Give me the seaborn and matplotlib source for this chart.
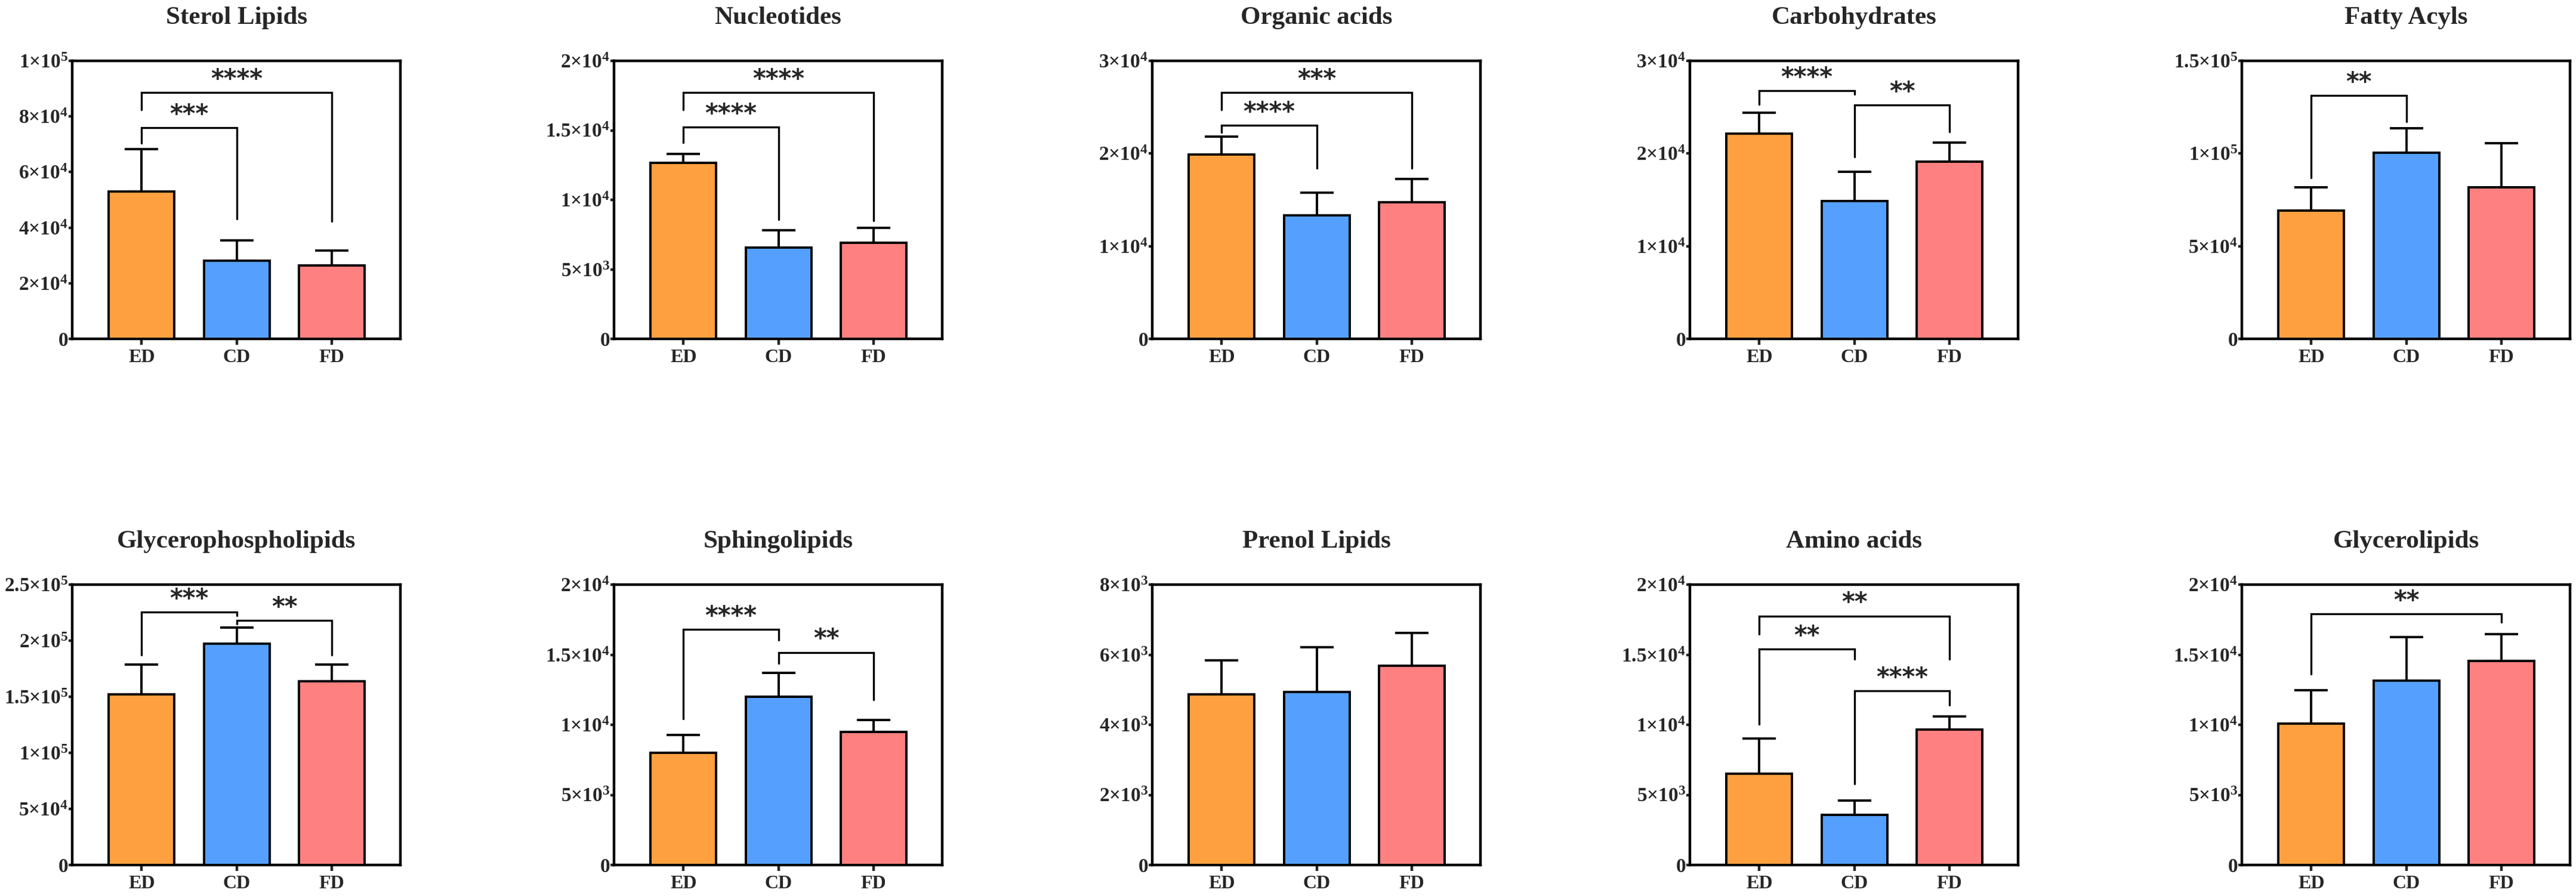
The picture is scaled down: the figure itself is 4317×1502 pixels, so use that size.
import numpy as np
import matplotlib
matplotlib.use("Agg")
import matplotlib.pyplot as plt
import seaborn as sns
from matplotlib.ticker import FixedLocator, FuncFormatter

sns.set_style("white")
plt.rcParams['font.family'] = ['Liberation Serif', 'DejaVu Serif']
plt.rcParams['font.weight'] = 'bold'
plt.rcParams['mathtext.fontset'] = 'custom'
plt.rcParams['mathtext.rm'] = 'Liberation Serif:bold'
plt.rcParams['mathtext.bf'] = 'Liberation Serif:bold'
plt.rcParams['mathtext.it'] = 'Liberation Serif:bold'

# DATA
groups = ["ED", "CD", "FD"]
colors = ["#FFA040", "#55A0FF", "#FF8080"]

titles = ["Sterol Lipids", "Nucleotides", "Organic acids", "Carbohydrates", "Fatty Acyls",
          "Glycerophospholipids", "Sphingolipids", "Prenol Lipids", "Amino acids", "Glycerolipids"]

sterol_mean = [52900, 28200, 26500]
sterol_sd = [15400, 7200, 5300]
nucleo_mean = [12660, 6560, 6900]
nucleo_sd = [640, 1270, 1100]
organic_mean = [19880, 13320, 14750]
organic_sd = [1960, 2440, 2510]
carbo_mean = [22120, 14870, 19120]
carbo_sd = [2290, 3160, 2030]
fatty_mean = [69100, 100550, 81780]
fatty_sd = [12680, 13180, 23840]
gpl_mean = [152050, 197460, 163630]
gpl_sd = [26490, 14030, 14910]
sphingo_mean = [8010, 11990, 9490]
sphingo_sd = [1250, 1720, 840]
prenol_mean = [4860, 4930, 5680]
prenol_sd = [970, 1290, 940]
amino_mean = [6500, 3560, 9670]
amino_sd = [2530, 1020, 930]
glycero_mean = [10100, 13130, 14550]
glycero_sd = [2370, 3130, 1920]

means = [sterol_mean, nucleo_mean, organic_mean, carbo_mean, fatty_mean,
         gpl_mean, sphingo_mean, prenol_mean, amino_mean, glycero_mean]
sds = [sterol_sd, nucleo_sd, organic_sd, carbo_sd, fatty_sd,
       gpl_sd, sphingo_sd, prenol_sd, amino_sd, glycero_sd]

yticks = [
    [0, 2e4, 4e4, 6e4, 8e4, 1e5],
    [0, 5e3, 1e4, 1.5e4, 2e4],
    [0, 1e4, 2e4, 3e4],
    [0, 1e4, 2e4, 3e4],
    [0, 5e4, 1e5, 1.5e5],
    [0, 5e4, 1e5, 1.5e5, 2e5, 2.5e5],
    [0, 5e3, 1e4, 1.5e4, 2e4],
    [0, 2e3, 4e3, 6e3, 8e3],
    [0, 5e3, 1e4, 1.5e4, 2e4],
    [0, 5e3, 1e4, 1.5e4, 2e4],
]

# significance: (group a, group b, label)
sig_pairs = [
    [(0, 2, "****"), (0, 1, "***")],
    [(0, 2, "****"), (0, 1, "****")],
    [(0, 2, "***"), (0, 1, "****")],
    [(0, 1, "****"), (1, 2, "**")],
    [(0, 1, "**")],
    [(0, 1, "***"), (1, 2, "**")],
    [(0, 1, "****"), (1, 2, "**")],
    [],
    [(0, 2, "**"), (0, 1, "**"), (1, 2, "****")],
    [(0, 2, "**")],
]
# bracket heights: (crossbar, left leg end, right leg end)
sig_heights = [
    [(88570, 82340, 42240), (75940, 70390, 43090)],
    [(17710, 16470, 8510), (15240, 14140, 8590)],
    [(26570, 24710, 18410), (23060, 22300, 18410)],
    [(26800, 25270, 26370), (25220, 19630, 22370)],
    [(131230, 86850, 117280)],
    [(225510, 187000, 222180), (217940, 214830, 187000)],
    [(16790, 10420, 16030), (15170, 14370, 11790)],
    [],
    [(17760, 16470, 14660), (15400, 10030, 14660), (12410, 5790, 11400)],
    [(17900, 13620, 17330)],
]


def sci_fmt(v, pos=None):
    if v == 0:
        return "0"
    e = int(np.floor(np.log10(v) + 1e-9))
    m = v / 10 ** e
    ms = ("%g" % m)
    return r"$%s{\times}10^{%d}$" % (ms, e)


W, H = 4317, 1502
fig = plt.figure(figsize=(W / 100, H / 100), dpi=100)

lefts = [121, 1029, 1931, 2832, 3757]
ax_w = 550
rows = [(102, 568), (980, 1450)]

for k in range(10):
    r, c = divmod(k, 5)
    top, bot = rows[r]
    ax = fig.add_axes([lefts[c] / W, 1 - bot / H, ax_w / W, (bot - top) / H])

    sns.barplot(x=groups, y=means[k], hue=groups, palette=colors, width=0.69,
                edgecolor="black", linewidth=2.8, legend=False, ax=ax,
                saturation=1, zorder=3)
    ax.errorbar(x=[0, 1, 2], y=means[k], yerr=[[0, 0, 0], sds[k]], fmt="none",
                ecolor="black", elinewidth=2.8, capsize=20, capthick=2.8, zorder=2)

    ymax = yticks[k][-1]
    ax.set_ylim(0, ymax)
    ax.set_xlim(-0.73, 2.72)
    ax.yaxis.set_major_locator(FixedLocator(yticks[k]))
    ax.yaxis.set_major_formatter(FuncFormatter(sci_fmt))

    for sp in ax.spines.values():
        sp.set_linewidth(3.2)
        sp.set_color("black")
    ax.tick_params(axis="y", left=True, length=4, width=3.2, pad=1, labelsize=24)
    ax.tick_params(axis="x", bottom=True, length=7, width=3.2, pad=5, labelsize=23)
    ax.set_xlabel("")
    ax.set_ylabel("")

    for (a, b, lab), (yb, yl, yr) in zip(sig_pairs[k], sig_heights[k]):
        ax.plot([a, a, b, b], [yl, yb, yb, yr], color="black", lw=2.4,
                solid_joinstyle="miter", zorder=4)
        ax.text((a + b) / 2, yb + 0.045 * ymax, lab, ha="center", va="center",
                fontsize=30, fontweight="bold", family="DejaVu Sans", zorder=5)

    ax.text(0.5, 1 + 72 / (bot - top), titles[k], transform=ax.transAxes,
            ha="center", va="center", fontsize=31, fontweight="bold")

fig.savefig("out.png", dpi=100, facecolor="white")
